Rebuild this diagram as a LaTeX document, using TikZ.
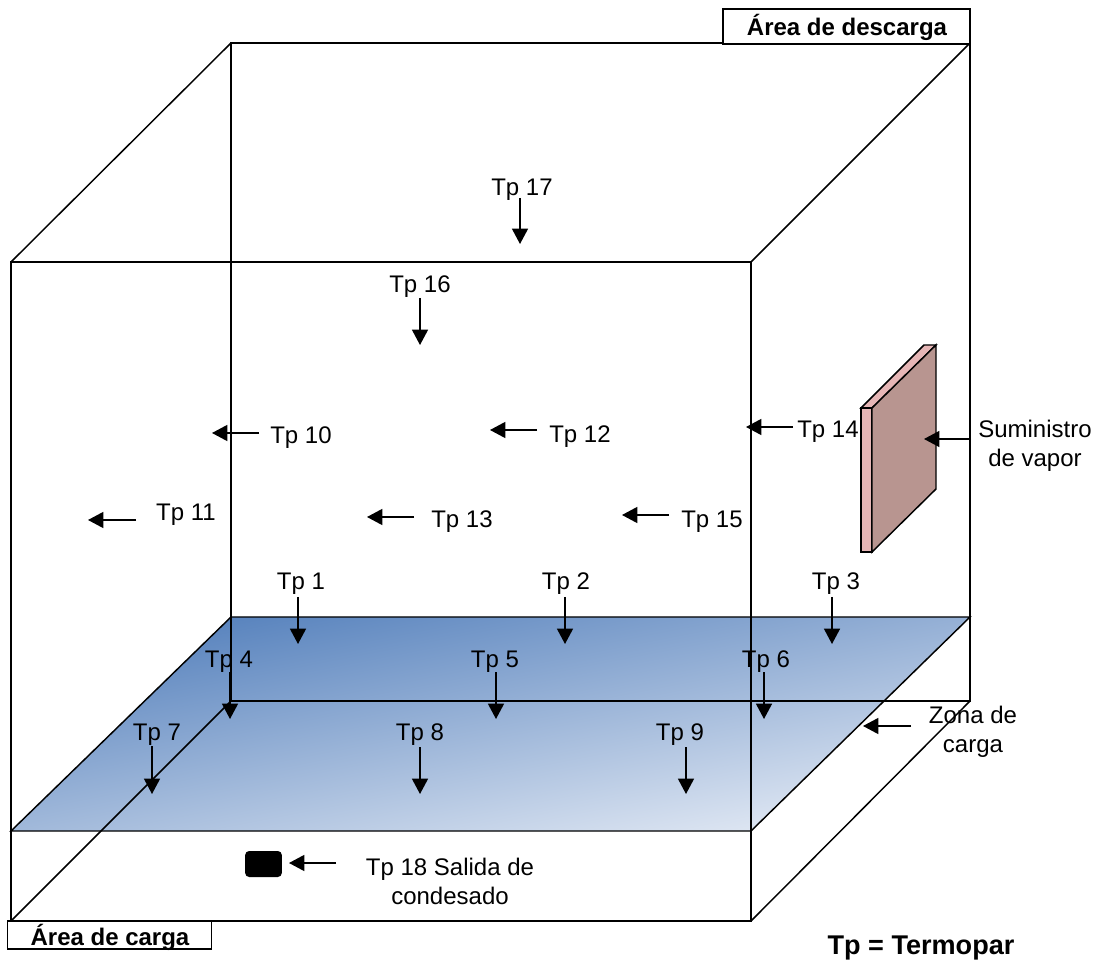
\documentclass[tikz,border=0pt]{standalone}
\usepackage{fontspec}
\setmainfont{Liberation Sans}
\usetikzlibrary{arrows.meta}
\definecolor{plateA}{HTML}{5480BC}
\definecolor{plateB}{HTML}{E2E9F4}
\definecolor{panelFace}{HTML}{B89590}
\definecolor{panelEdge}{HTML}{E6B6B6}
\tikzset{
  wire/.style={line width=1.1pt,black},
  heavy/.style={line width=1.4pt,black},
  probe/.style={line width=1.1pt,-{Triangle[length=11.5pt,width=12pt]}},
  lbl/.style={font=\fontsize{18}{21.5}\selectfont,inner sep=0pt,align=center,yshift=-2pt},
  bold lbl/.style={font=\fontsize{18}{21.5}\selectfont\bfseries,inner sep=0pt,align=center,yshift=-1pt},
  tagbox/.style={heavy,fill=white},
}
\begin{document}
\begin{tikzpicture}[x=0.75pt,y=-0.75pt]
\useasboundingbox (0,0) rectangle (1097,962);
% corner coordinates
\coordinate (bTL) at (231,43);  \coordinate (bTR) at (970,43);
\coordinate (bBL) at (231,701); \coordinate (bBR) at (970,701);
\coordinate (fTL) at (11,262);  \coordinate (fTR) at (751,262);
\coordinate (fBL) at (11,921);  \coordinate (fBR) at (751,921);
\coordinate (pA) at (231,617);  \coordinate (pB) at (970,617);
\coordinate (pC) at (751,831);  \coordinate (pD) at (11,831);
% plate
\shade[top color=plateA,bottom color=plateB,shading angle=11] (pA)--(pB)--(pC)--(pD)--cycle;
\draw[wire] (pA)--(pB)--(pC)--(pD)--cycle;
% box
\draw[wire] (bTL)--(bTR)--(bBR)--(bBL)--cycle;
\draw[wire] (fTL)--(fTR)--(fBR)--(fBL)--cycle;
\draw[wire] (fTL)--(bTL) (fTR)--(bTR) (fBR)--(bBR) (fBL)--(bBL);
% steam panel
\draw[wire,fill=panelEdge] (861,408)--(924,345)--(936,345)--(872,408)--cycle;
\draw[wire,fill=panelEdge] (861,408) rectangle (872,552);
\draw[wire,fill=panelFace] (872,408)--(936,345)--(936,489)--(872,552)--cycle;
% condensate outlet
\node[fill=black,rounded corners=3pt,minimum width=27.5pt,minimum height=19.5pt,inner sep=0pt] (drain) at (263.5,864) {};
% tags
\node[tagbox,draw,minimum width=153pt,minimum height=21pt,inner sep=0pt] (carga) at (109.5,935) {};
\node[bold lbl] (cargat) at (110,936) {Área de carga};
\node[tagbox,draw,minimum width=185.5pt,minimum height=26pt,inner sep=0pt] (desc) at (846.5,26.5) {};
\node[bold lbl] (desct) at (847,26) {Área de descarga};
\node[bold lbl,font=\fontsize{20.3}{24}\selectfont\bfseries] (legend) at (921,947) {Tp = Termopar};
% probes: label, label position, arrow start, arrow end
\foreach \n/\lx/\ly/\sx/\sy/\ex/\ey in {
 17/522/187/520/198/520/244,
 16/420/284/420/298/420/345,
 10/301/435/259/433/212/433,
 12/580/434/537/430/490/430,
 14/828/429/793/427/746/427,
 11/186/512/136/520/88/520,
 13/462/519/414/517/367/517,
 15/712/519/669/515/622/515,
 1/301/581/298/597/298/644,
 2/566/581/565/597/565/644,
 3/836/581/832/597/832/644,
 4/229/659/230/672/230/719,
 5/495/659/496/672/496/719,
 6/766/659/764/672/764/719,
 7/157/732/152/746/152/794,
 8/420/732/420/747/420/794,
 9/680/732/686/747/686/794}{
  \node[lbl] (tp\n) at (\lx,\ly) {Tp \n};
  \coordinate (s\n) at (\sx,\sy);
  \coordinate (e\n) at (\ex,\ey);
  \draw[probe] (s\n)--(e\n);
}
% other labels
\node[lbl] (tp18) at (450,879) {Tp 18 Salida de\\condesado};
\coordinate (s18) at (336,863); \coordinate (e18) at (289,863);
\draw[probe] (s18)--(e18);
\node[lbl] (zona) at (973,729) {Zona de\\carga};
\coordinate (sz) at (911,726); \coordinate (ez) at (863,726);
\draw[probe] (sz)--(ez);
\node[lbl] (vapor) at (1035,443) {Suministro\\de vapor};
\coordinate (sv) at (971,439); \coordinate (ev) at (924,439);
\draw[probe] (sv)--(ev);
\end{tikzpicture}
\end{document}
